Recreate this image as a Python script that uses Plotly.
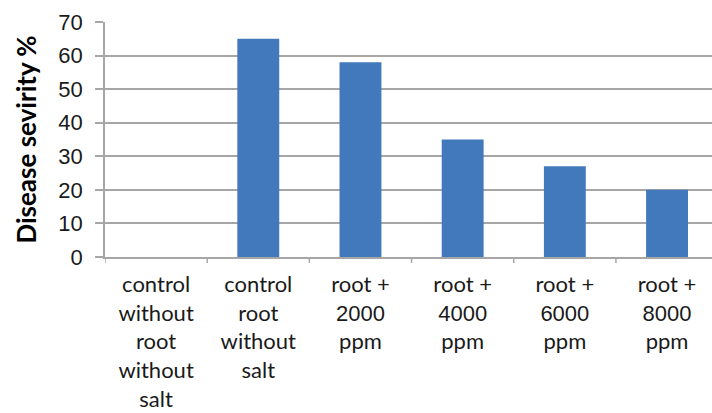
import plotly.graph_objects as go

categories = [
    "control<br>without<br>root<br>without<br>salt",
    "control<br>root<br>without<br>salt",
    "root +<br><span style='font-family:Liberation Sans'>2000</span><br>ppm",
    "root +<br><span style='font-family:Liberation Sans'>4000</span><br>ppm",
    "root +<br><span style='font-family:Liberation Sans'>6000</span><br>ppm",
    "root +<br><span style='font-family:Liberation Sans'>8000</span><br>ppm",
]
severity = [0, 65, 58, 35, 27, 20]
y_ticks = [0, 10, 20, 30, 40, 50, 60, 70]

fig = go.Figure(go.Bar(
    x=list(range(len(categories))), y=severity,
    marker=dict(color="#4279bd", line=dict(width=0)),
    width=0.41,
))

fig.update_layout(
    width=712, height=413,
    margin=dict(l=105, r=0, t=22, b=156),
    plot_bgcolor="white", paper_bgcolor="white",
    showlegend=False,
    xaxis=dict(
        tickmode="array", tickvals=list(range(len(categories))), ticktext=categories,
        range=[-0.5, 5.44], showgrid=False, zeroline=False,
        showline=True, linecolor="#a6a6a6", linewidth=1.5,
        tickfont=dict(family="Lato", size=22, color="#1a1a1a"),
        tickangle=0, ticklabelstandoff=7, automargin=False,
    ),
    yaxis=dict(
        range=[0, 70], tickvals=y_ticks,
        showgrid=True, gridcolor="#a6a6a6", gridwidth=1.5,
        zeroline=False, showline=True, linecolor="#a6a6a6", linewidth=1.5,
        ticks="outside", ticklen=8, tickcolor="#a6a6a6", tickwidth=1.5,
        tickfont=dict(family="Liberation Sans", size=22, color="#1a1a1a"),
        ticklabelstandoff=8, automargin=False,
        title=dict(text="<b>Disease sevirity %</b>", font=dict(family="Lato", size=26, color="#000"), standoff=14),
    ),
)

# boundary tick marks on x axis
for i in range(len(categories) + 1):
    fig.add_shape(type="line", xref="x", yref="paper", x0=i - 0.5, x1=i - 0.5,
                  y0=0, y1=-0.025, line=dict(color="#a6a6a6", width=1.5))

fig.write_html("out.html")
